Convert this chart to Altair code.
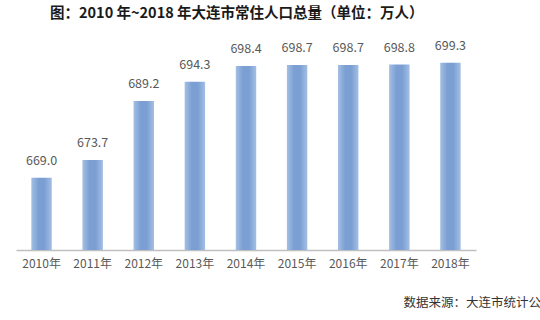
import altair as alt
import pandas as pd

years = ["2010年", "2011年", "2012年", "2013年", "2014年", "2015年", "2016年", "2017年", "2018年"]
population = [669.0, 673.7, 689.2, 694.3, 698.4, 698.7, 698.7, 698.8, 699.3]

df = pd.DataFrame({"year": years, "pop": population})
FONT = "Noto Sans CJK SC"

base = alt.Chart(df).encode(
    x=alt.X("year:N", sort=years,
            scale=alt.Scale(paddingInner=0.6, paddingOuter=0.3),
            axis=alt.Axis(title="数据来源：大连市统计公", titleX=387, titleY=52,
                          titleAlign="left", titleBaseline="middle", titleFont=FONT,
                          titleFontSize=12.5, titleFontWeight="normal", titleColor="#333333",
                          labelAngle=0, labelFont=FONT, labelFontSize=12, labelColor="#595959",
                          labelPadding=8, ticks=False, domainColor="#bfbfbf", domainWidth=1.5,
                          grid=False)),
    y=alt.Y("pop:Q", scale=alt.Scale(domain=[650, 705], zero=False, nice=False), axis=None),
)

bars = base.mark_bar(
    color=alt.Gradient(gradient="linear", x1=0, x2=1, y1=0, y2=0,
                       stops=[alt.GradientStop(color="#a3bfe4", offset=0),
                              alt.GradientStop(color="#7c9fd3", offset=0.35),
                              alt.GradientStop(color="#7c9fd3", offset=0.65),
                              alt.GradientStop(color="#a3bfe4", offset=1)]),
    clip=True,
)

labels = base.mark_text(dy=-10, baseline="bottom", font=FONT, fontSize=12.5, color="#595959").encode(
    text=alt.Text("pop:Q", format=".1f")
)

chart = (bars + labels).properties(
    width=460, height=209,
    title=alt.Title("图：2010 年~2018 年大连市常住人口总量（单位：万人）", anchor="start", dx=34,
                    offset=18, font=FONT, fontSize=14.5, fontWeight="bold", color="#1a1a1a"),
    autosize=alt.AutoSizeParams(type="none"),
    padding={"left": 16, "top": 41, "right": 64, "bottom": 70},
).configure_view(stroke=None)

chart.save("out.html", embed_options={"renderer": "svg", "actions": False})
